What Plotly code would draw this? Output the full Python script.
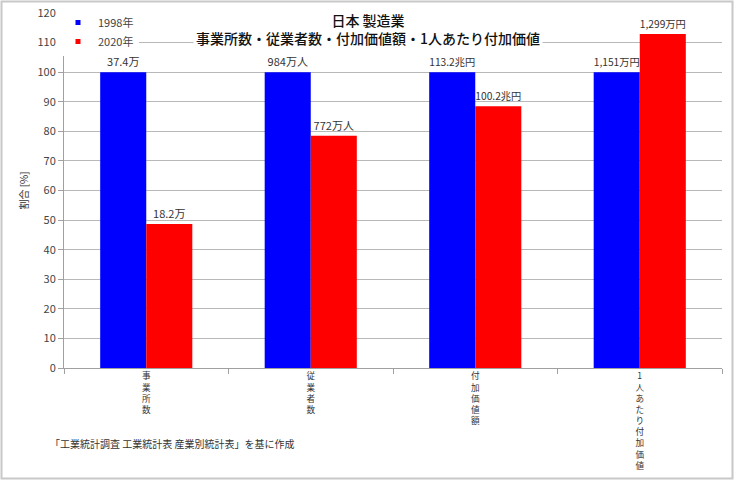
import plotly.graph_objects as go

categories = ["事業所数", "従業者数", "付加価値額", "1人あたり付加価値"]
series_names = ["1998年", "2020年"]
values_1998 = [100, 100, 100, 100]
values_2020 = [48.7, 78.5, 88.5, 112.9]
labels_1998 = ["37.4万", "984万人", "113.2兆円", "1,151万円"]
labels_2020 = ["18.2万", "772万人", "100.2兆円", "1,299万円"]
colors = ["#0000ff", "#ff0000"]
y_ticks = list(range(0, 121, 10))

FONT = "Noto Sans CJK JP"
W, H = 734, 480
ML, MR, MT, MB = 64, 12, 13, 112
PW, PH = W - ML - MR, H - MT - MB

vert = ["<br>".join(list(c)) for c in categories]

fig = go.Figure()
for vals, labs, col in [(values_1998, labels_1998, colors[0]), (values_2020, labels_2020, colors[1])]:
    fig.add_trace(go.Bar(
        x=categories, y=vals, showlegend=False,
        marker=dict(color=col, line=dict(width=0)),
        text=labs, textposition="outside", cliponaxis=False,
        textfont=dict(size=11, color="#333333"),
    ))
# legend entries (small squares)
for name, col in zip(series_names, colors):
    fig.add_trace(go.Scatter(
        x=[None], y=[None], mode="markers", name=name,
        marker=dict(symbol="square", size=5, color=col),
    ))

fig.update_layout(
    width=W, height=H,
    margin=dict(l=ML, r=MR, t=MT, b=MB, autoexpand=False),
    paper_bgcolor="white", plot_bgcolor="white",
    font=dict(family=FONT, size=11, color="#333333"),
    barmode="group", bargap=0.44, bargroupgap=0,
    showlegend=True,
    legend=dict(x=-6 / PW, y=1 + 5 / PH, xanchor="left", yanchor="top",
                bgcolor="white", font=dict(size=11, color="#444444"),
                itemwidth=30, tracegroupgap=0),
    xaxis=dict(
        tickvals=categories, ticktext=vert, automargin=False,
        showline=True, linecolor="#a0a0a0", linewidth=1,
        ticks="outside", tickson="boundaries", ticklen=5, tickcolor="#a0a0a0",
        tickfont=dict(size=8.6, color="#333333"),
        showgrid=False, tickangle=0,
    ),
    yaxis=dict(
        range=[0, 120], tickvals=y_ticks, automargin=False,
        showline=True, linecolor="#a0a0a0", linewidth=1,
        ticks="outside", ticklen=5, tickcolor="#a0a0a0",
        showgrid=True, gridcolor="#b8b8b8", gridwidth=1,
        tickfont=dict(size=11, color="#444444"),
        title=dict(text="割合 [%]", font=dict(size=10, color="#333333"), standoff=6),
        zeroline=False,
    ),
)

# title with white background
fig.add_annotation(
    xref="paper", yref="paper",
    x=(368 - ML) / PW, y=1 + 6 / PH,
    xanchor="center", yanchor="top",
    text="日本 製造業<br>事業所数・従業者数・付加価値額・1人あたり付加価値",
    showarrow=False, bgcolor="white",
    font=dict(size=14, color="#111111", family=FONT, weight=500),
    borderpad=2,
)
# source note
fig.add_annotation(
    xref="paper", yref="paper",
    x=(48 - ML) / PW, y=-(443 - MT - PH) / PH,
    xanchor="left", yanchor="middle",
    text="「工業統計調査 工業統計表 産業別統計表」を基に作成",
    showarrow=False, font=dict(size=10, color="#333333"),
)
# outer border
fig.add_shape(
    type="rect", xref="paper", yref="paper",
    x0=(-ML + 1.5) / PW, x1=1 + (MR - 1.5) / PW,
    y0=-(MB - 1.5) / PH, y1=1 + (MT - 1.5) / PH,
    line=dict(color="#c8c8c8", width=2), layer="below",
)

fig.write_html("out.html")
